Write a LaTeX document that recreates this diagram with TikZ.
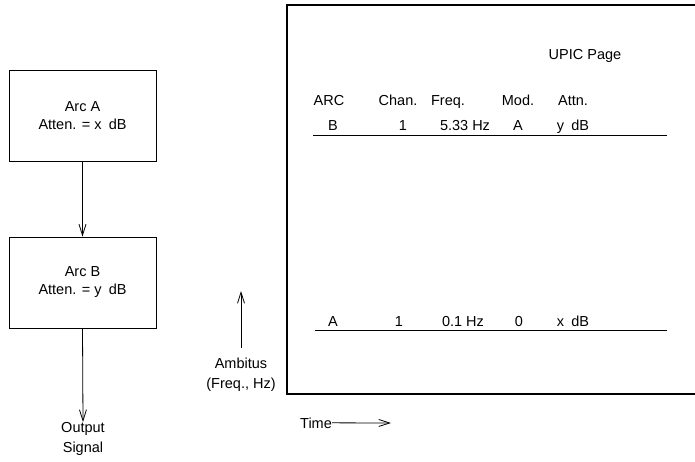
\documentclass[tikz,border=0pt]{standalone}
\usepackage{fontspec}
\setmainfont{Liberation Sans}
\usetikzlibrary{arrows.meta}
\begin{document}
\begin{tikzpicture}[x=1pt,y=-1pt,
  txt/.style={inner sep=0pt,font=\fontsize{14.5}{17}\selectfont,anchor=base},
  arcbox/.style={draw,line width=0.9pt,minimum width=147pt,minimum height=91pt,inner sep=0pt,align=center,font=\fontsize{14.5}{18}\selectfont},
  conn/.style={line width=0.8pt,-{Straight Barb[length=11pt,width=7pt,line width=0.8pt]}},
  rule/.style={line width=0.8pt}]
\useasboundingbox (0,0) rectangle (695,461);
% left chain
\node[arcbox] (A) at (82.5,115.5) {Arc A\\Atten. = x\enspace dB};
\node[arcbox] (B) at (82.5,282.5) {Arc B\\Atten. = y\enspace dB};
\node[txt,align=center,font=\fontsize{14.5}{20}\selectfont,anchor=north] (out) at (83,422) {Output\\Signal};
\draw[conn] (A.south) -- (B.north);
\draw[conn] (B.south) -- (out.north);
% page frame
\draw[line width=1.3pt] (695,5) -- (287,5) -- (287,394) -- (695,394);
\node[txt] (upic) at (585,59) {UPIC Page};
% header
\node[txt] (h1) at (329,105) {ARC};
\node[txt] (h2) at (398,105) {Chan.};
\node[txt] (h3) at (448,105) {Freq.};
\node[txt] (h4) at (518,105) {Mod.};
\node[txt] (h5) at (573,105) {Attn.};
% row B
\node[txt] (b1) at (333,130) {B};
\node[txt] (b2) at (403,130) {1};
\node[txt] (b3) at (465,130) {5.33 Hz};
\node[txt] (b4) at (518,130) {A};
\node[txt] (b5) at (573,130) {y\enspace dB};
\coordinate (l1a) at (313,135);
\coordinate (l1b) at (667,135);
\draw[rule] (l1a) -- (l1b);
% row A
\node[txt] (a1) at (333,326) {A};
\node[txt] (a2) at (399,326) {1};
\node[txt] (a3) at (463,326) {0.1 Hz};
\node[txt] (a4) at (519,326) {0};
\node[txt] (a5) at (573,326) {x\enspace dB};
\coordinate (l2a) at (315,330);
\coordinate (l2b) at (667,330);
\draw[rule] (l2a) -- (l2b);
% ambitus
\node[txt,align=center,font=\fontsize{14.5}{20}\selectfont,anchor=north] (amb) at (241,358) {Ambitus\\(Freq., Hz)};
\coordinate (ambbot) at (241,348);
\coordinate (ambtop) at (241,291);
\draw[conn] (ambbot) -- (ambtop);
% time
\node[txt,anchor=base west] (time) at (300,428) {Time};
\coordinate (timeend) at (391,423);
\draw[conn] (time.east) -- (timeend);
\end{tikzpicture}
\end{document}
